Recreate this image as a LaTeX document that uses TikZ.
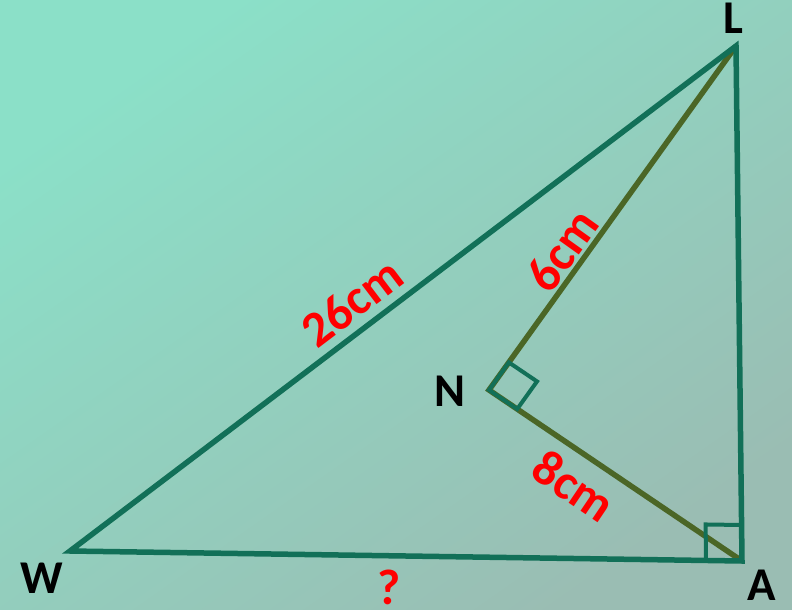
\documentclass[tikz,border=0pt]{standalone}
\usepackage{fontspec}
\setmainfont{Carlito}
\usetikzlibrary{calc}
\begin{document}
\begin{tikzpicture}[x=1pt,y=-1pt,
  side/.style={draw=sidegreen,line width=5.5pt,line join=miter},
  inner/.style={draw=olive2,line width=5.5pt},
  rmark/.style={draw=sidegreen,line width=4pt},
  vlabel/.style={font=\fontsize{47}{47}\selectfont\bfseries,text=black,inner sep=0pt},
  mlabel/.style={font=\fontsize{50}{50}\selectfont\bfseries,text=red,inner sep=0pt}]
\definecolor{sidegreen}{HTML}{127058}
\definecolor{olive2}{HTML}{4B6626}
\definecolor{bgA}{HTML}{8BE0C8}
\definecolor{bgB}{HTML}{9ABDB3}
\shade[top color=bgA,bottom color=bgB,shading angle=35] (0,0) rectangle (792,610);
\useasboundingbox (0,0) rectangle (792,610);
\coordinate (W) at (70,551);
\coordinate (L) at (736,46);
\coordinate (A) at (742,561);
\coordinate (N) at (489,390);
% inner lines
\draw[inner] (L) -- (N) -- (A);
% right angle at N
\draw[rmark] (N) -- ($(N)!34pt!(L)$) -- ($($(N)!34pt!(L)$)+($(N)!34pt!(A)$)-(N)$) -- ($(N)!34pt!(A)$) -- cycle;
% right angle at A
\draw[rmark] ($(A)!36pt!(W)$) -- ($($(A)!36pt!(W)$)+($(A)!36pt!(L)$)-(A)$) -- ($(A)!36pt!(L)$);
% triangle
\draw[side] (W) -- (L) -- (A) -- cycle;
% vertex labels
\node[vlabel] (lW) at (42,578) {W};
\node[vlabel] (lL) at (733,18) {L};
\node[vlabel] (lA) at (762,585) {A};
\node[vlabel] (lN) at (450,391) {N};
% measure labels
\node[mlabel,rotate=37.2] (m26) at (352,302) {26cm};
\node[mlabel,rotate=54.5] (m6) at (562,250) {6cm};
\node[mlabel,rotate=-34] (m8) at (574,486) {8cm};
\node[mlabel] (mq) at (389,587) {?};
\end{tikzpicture}
\end{document}
